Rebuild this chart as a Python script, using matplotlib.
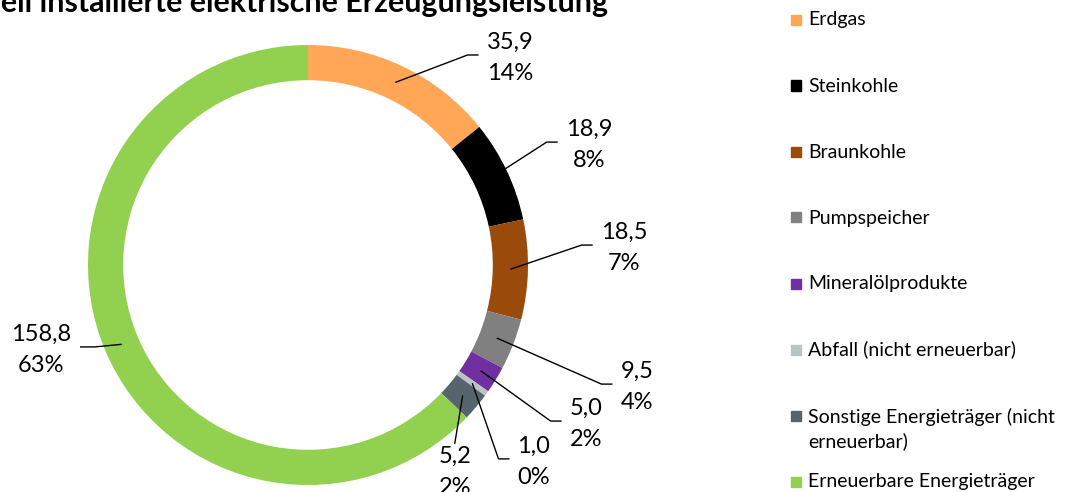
import matplotlib.pyplot as plt
from matplotlib.patches import Rectangle
import numpy as np

plt.rcParams['font.family'] = ['Lato', 'DejaVu Sans']

###############################
# Data
###############################
sources = ['Erdgas', 'Steinkohle', 'Braunkohle', 'Pumpspeicher', 'Mineralölprodukte',
           'Abfall (nicht erneuerbar)', 'Sonstige Energieträger (nicht\nerneuerbar)',
           'Erneuerbare Energieträger']
capacity = [35.9, 18.9, 18.5, 9.5, 5.0, 1.0, 5.2, 158.8]
shares = [14, 8, 7, 4, 2, 0, 2, 63]
colors = ['#FFA657', '#000000', '#9A4A0B', '#808080', '#7130A0',
          '#BCC3C7', '#56656D', '#92D050']

# label centres, in ring radii from the ring centre
label_pos = [(0.918, 0.941), (1.277, 0.545), (1.436, 0.077), (1.495, -0.555),
             (1.264, -0.723), (1.027, -0.895), (0.668, -0.941), (-1.214, -0.386)]


###############################
# Figure
###############################
W, H = 1070, 492
CX, CY, R = 308, 265, 220   # ring centre and radius in pixels

fig = plt.figure(figsize=(W / 100, H / 100), dpi=100)
ax = fig.add_axes([0, 0, 1, 1])

wedges, _ = ax.pie(capacity, colors=colors, startangle=90, counterclock=False,
                   radius=1, wedgeprops=dict(width=0.16, linewidth=0))
ax.set_aspect('auto')
ax.set_xlim(-CX / R, (W - CX) / R)
ax.set_ylim(-(H - CY) / R, CY / R)
ax.axis('off')

fig.text(608 / W, 1 - 12 / H, 'Aktuell installierte elektrische Erzeugungsleistung',
         ha='right', va='baseline', fontsize=21.9, fontweight='bold')

# value / share labels
texts = []
for v, p, (tx, ty) in zip(capacity, shares, label_pos):
    s = f'{v:.1f}'.replace('.', ',') + f'\n{p}%'
    texts.append(ax.text(tx, ty, s, ha='center', va='center', fontsize=17,
                         linespacing=1.6))

fig.canvas.draw()
renderer = fig.canvas.get_renderer()
to_data = ax.transData.inverted()

# leader lines from the middle of the ring to the label
for w, t in zip(wedges, texts):
    ang = np.deg2rad((w.theta1 + w.theta2) / 2)
    start = ax.transData.transform((0.92 * np.cos(ang), 0.92 * np.sin(ang)))
    bb = t.get_window_extent(renderer)
    cy = (bb.y0 + bb.y1) / 2 + 3
    if bb.x0 <= start[0] <= bb.x1:
        pts = [start, (start[0] - 8, bb.y1 + 2)]
    elif start[0] < bb.x0:
        end = (bb.x0 - 8, cy)
        pts = [start, (end[0] - 11, cy), end]
    else:
        end = (bb.x1 + 9, cy)
        pts = [start, (end[0] + 15, cy), end]
    pts = to_data.transform(np.array(pts))
    ax.plot(pts[:, 0], pts[:, 1], color='black', lw=1.0, solid_capstyle='butt')

# legend (marker sits beside the first line of a wrapped entry)
for i, (name, c) in enumerate(zip(sources, colors)):
    y = 19.5 + 66 * i
    fig.patches.append(Rectangle((791 / W, 1 - (y + 5) / H), 10 / W, 10 / H,
                                 transform=fig.transFigure, color=c))
    base = y + 6 + 26 * name.count('\n')
    fig.text(808 / W, 1 - base / H, name, ha='left', va='baseline',
             fontsize=14, linespacing=1.45)

fig.savefig('out.png', dpi=100)
